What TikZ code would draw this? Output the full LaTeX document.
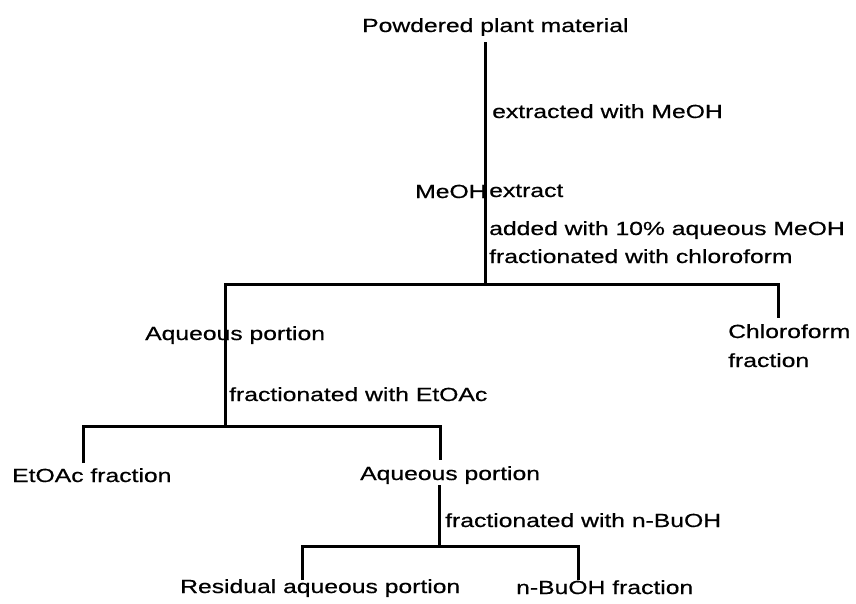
\documentclass[tikz,border=0pt]{standalone}
\usepackage{fontspec}
\setmainfont{Liberation Sans}[FakeStretch=1.3,FakeBold=0.6]
\begin{document}
\begin{tikzpicture}[x=1pt,y=-1pt,
  lbl/.style={inner sep=0pt, anchor=base west, font=\fontsize{19}{28.5}\selectfont},
  conn/.style={line width=3pt, line join=miter, line cap=butt}]
\useasboundingbox (0,0) rectangle (856,603);
% texts
\node[lbl] (top) at (362,32) {Powdered plant material};
\node[lbl] (l1) at (492,118) {extracted with MeOH};
\node[lbl] (meoh) at (415,198) {MeOH};
\node[lbl] (ext) at (489,197) {extract};
\node[lbl] (l2a) at (489,235) {added with 10\% aqueous MeOH};
\node[lbl] (l2b) at (489,263) {fractionated with chloroform};
\node[lbl] (aq1) at (145,340) {Aqueous portion};
\node[lbl] (chla) at (728,338) {Chloroform};
\node[lbl] (chlb) at (728,367) {fraction};
\node[lbl] (l3) at (229,401) {fractionated with EtOAc};
\node[lbl] (etf) at (12,482) {EtOAc fraction};
\node[lbl] (aq2) at (360,480) {Aqueous portion};
\node[lbl] (l4) at (445,527) {fractionated with n-BuOH};
\node[lbl] (res) at (180,593) {Residual aqueous portion};
\node[lbl] (bu) at (516,594) {n-BuOH fraction};
% junction coordinates
\coordinate (s1) at (485,42);
\coordinate (j1) at (485,284);
\coordinate (b1l) at (225,284);
\coordinate (b1r) at (778,284);
\coordinate (e1r) at (778,318);
\coordinate (j2) at (225,426);
\coordinate (b2l) at (83,426);
\coordinate (b2r) at (440,426);
\coordinate (e2l) at (83,463);
\coordinate (e2r) at (440,460);
\coordinate (s3) at (439,485);
\coordinate (j3) at (439,546);
\coordinate (b3l) at (302,546);
\coordinate (b3r) at (578,546);
\coordinate (e3l) at (302,580);
\coordinate (e3r) at (578,580);
% connectors
\draw[conn] (s1) -- (j1);
\draw[conn] (j2) -- (b1l) -- (b1r) -- (e1r);
\draw[conn] (e2l) -- (b2l) -- (b2r) -- (e2r);
\draw[conn] (s3) -- (j3);
\draw[conn] (e3l) -- (b3l) -- (b3r) -- (e3r);
\end{tikzpicture}
\end{document}
